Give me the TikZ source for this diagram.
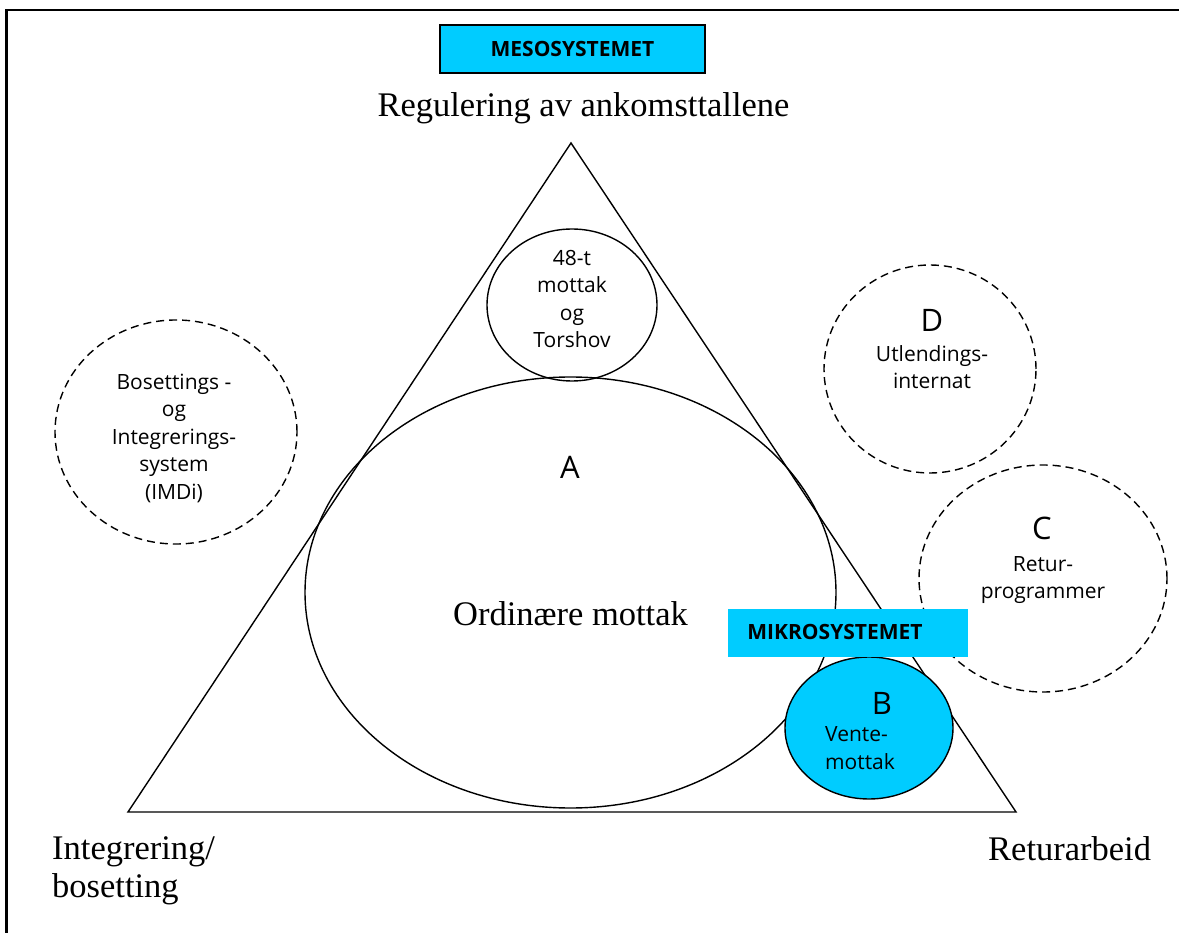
\documentclass[tikz,border=0pt]{standalone}
\usepackage{fontspec}
\setmainfont{Liberation Serif}
\newfontfamily\labelsf{Open Sans}
\usetikzlibrary{shapes.geometric}
\definecolor{sysblue}{HTML}{00CCFF}
\begin{document}
\begin{tikzpicture}[x=1pt,y=-1pt,
  outline/.style={draw=black,line width=1.4pt},
  oval/.style={ellipse,inner sep=0pt,outline},
  dashoval/.style={ellipse,inner sep=0pt,draw=black,line width=1.4pt,dash pattern=on 8pt off 5pt},
  serif/.style={font=\fontsize{34.5}{38}\selectfont,inner sep=0pt},
  sanstext/.style={font=\labelsf\fontsize{21}{27.5}\selectfont,align=center,inner sep=0pt},
  letter/.style={font=\labelsf\fontsize{31}{31}\selectfont,inner sep=0pt},
  sysbox/.style={fill=sysblue,inner sep=0pt,font=\labelsf\bfseries\fontsize{21}{22}\selectfont}]
\useasboundingbox (0,0) rectangle (1179,933);
\fill[white] (0,0) rectangle (1179,933);
% frame
\coordinate (fbl) at (6.5,933);
\coordinate (ftl) at (6.5,10);
\coordinate (ftr) at (1179,10);
\draw[line width=2.6pt] (fbl) -- (ftl) -- (ftr);
% triangle
\coordinate (apex) at (571,143);
\coordinate (left) at (128,812);
\coordinate (right) at (1016,812);
\draw[outline,line join=miter] (apex) -- (left) -- (right) -- cycle;
% ovals
\node[oval,minimum width=531pt,minimum height=431pt] (ordin) at (570.5,592.5) {};
\node[oval,minimum width=170pt,minimum height=152pt] (fortyeight) at (572,305) {};
\node[dashoval,minimum width=242pt,minimum height=224pt] (imdi) at (176,432) {};
\node[dashoval,minimum width=212pt,minimum height=208pt] (dcirc) at (930,369) {};
\node[dashoval,minimum width=248pt,minimum height=227pt] (ccirc) at (1043,578.5) {};
\node[oval,fill=sysblue,minimum width=168pt,minimum height=142pt] (bcirc) at (869,728) {};
% boxes
\node[sysbox,draw=black,line width=1.4pt,minimum width=265pt,minimum height=48pt] (meso) at (572.5,49) {MESOSYSTEMET};
\node[fill=sysblue,inner sep=0pt,minimum width=240pt,minimum height=48pt] (mikro) at (848,633) {};
\node[sysbox,fill=none] (mikrotext) at (835,632) {MIKROSYSTEMET};
% serif labels
\node[serif,anchor=base] (regul) at (583.5,117) {Regulering av ankomsttallene};
\node[serif,anchor=base] (ordtext) at (570.5,625) {Ordinære mottak};
\node[serif,anchor=west,align=left,font=\fontsize{34.5}{38}\selectfont] (integ) at (52,871) {Integrering/\\bosetting};
\node[serif,anchor=base west] (retur) at (988,860) {Returarbeid};
% sans labels
\node[sanstext] (t48) at (572,299) {48-t\\mottak\\og\\Torshov};
\node[sanstext] (timdi) at (174,438) {Bosettings -\\og\\Integrerings-\\system\\(IMDi)};
\node[letter] (la) at (570,467.5) {A};
\node[letter] (ld) at (932,320) {D};
\node[sanstext] (td) at (932,367) {Utlendings-\\internat};
\node[letter] (lc) at (1042,528) {C};
\node[sanstext] (tc) at (1043,580) {Retur-\\programmer};
\node[letter] (lb) at (882,703.5) {B};
\node[sanstext,align=left,anchor=west] (tb) at (825,748) {Vente-\\mottak};
\end{tikzpicture}
\end{document}
